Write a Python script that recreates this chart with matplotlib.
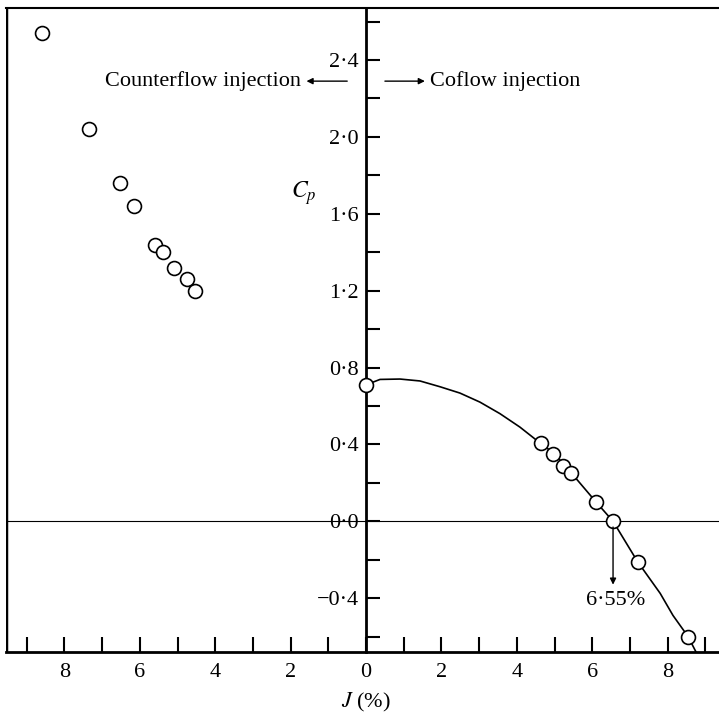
import numpy as np
import matplotlib
matplotlib.use('Agg')
import matplotlib.pyplot as plt
from matplotlib.ticker import FixedLocator, FuncFormatter

plt.rcParams['font.family'] = ['Liberation Serif', 'DejaVu Serif']
plt.rcParams['mathtext.fontset'] = 'stix'

# counterflow injection (plotted on the left, J shown as positive)
counter_J = [8.59, 7.35, 6.53, 6.15, 5.60, 5.38, 5.09, 4.75, 4.54]
counter_Cp = [2.54, 2.04, 1.76, 1.64, 1.44, 1.40, 1.32, 1.26, 1.20]

# coflow injection
co_J = [0.0, 4.64, 4.96, 5.23, 5.44, 6.10, 6.55, 7.21, 8.54]
co_Cp = [0.71, 0.405, 0.35, 0.29, 0.25, 0.10, 0.0, -0.21, -0.60]

# faired curve through the coflow points
curve_J = [0.0, 0.37, 0.9, 1.43, 1.96, 2.49, 3.02, 3.55, 4.08, 4.5, 4.64,
           5.0, 5.45, 6.1, 6.55, 7.2, 7.8, 8.14, 8.54, 8.75]
curve_Cp = [0.71, 0.738, 0.74, 0.73, 0.70, 0.667, 0.62, 0.56, 0.49, 0.425,
            0.405, 0.35, 0.25, 0.10, 0.0, -0.21, -0.375, -0.49, -0.60, -0.68]

zero_J = 6.55

x_ticks = [-8, -6, -4, -2, 0, 2, 4, 6, 8]
y_ticks = [-0.4, 0.0, 0.4, 0.8, 1.2, 1.6, 2.0, 2.4]

fig = plt.figure(figsize=(7.19, 7.17), dpi=100)
ax = fig.add_axes([0.0083, 0.0907, 0.9917, 0.898])
xmin, xmax = -9.55, 9.36
ymin, ymax = -0.68, 2.67
ax.set_xlim(xmin, xmax)
ax.set_ylim(ymin, ymax)

# curve and points
ax.plot(curve_J, curve_Cp, color='black', lw=1.2, zorder=2, solid_joinstyle='round')
ax.plot(co_J, co_Cp, 'o', ms=10, mfc='white', mec='black', mew=1.2, zorder=3, clip_on=False)
ax.plot([-j for j in counter_J], counter_Cp, 'o', ms=10, mfc='white', mec='black', mew=1.2, zorder=3)

# zero line
ax.axhline(0, color='black', lw=0.8, zorder=1)

# spines: central axis at J = 0, frame on left/top/bottom
ax.spines['left'].set_position(('data', 0))
ax.spines['left'].set_linewidth(2)
ax.spines['bottom'].set_linewidth(2)
ax.spines['top'].set_linewidth(1.5)
ax.spines['right'].set_visible(False)
ax.axvline(xmin, color='black', lw=2.5)

# x ticks
ax.xaxis.set_major_locator(FixedLocator(x_ticks))
ax.xaxis.set_minor_locator(FixedLocator(np.arange(-9, 10, 2)))
ax.xaxis.set_major_formatter(FuncFormatter(lambda v, p: '%d' % abs(v)))
ax.tick_params(axis='x', which='both', direction='in', length=11, width=1.5,
               labelsize=16, pad=8)

# y ticks
ax.yaxis.set_major_locator(FixedLocator(y_ticks))
ax.yaxis.set_minor_locator(FixedLocator(np.arange(-0.6, 2.7, 0.4)))
ax.yaxis.set_major_formatter(FuncFormatter(
    lambda v, p: ('\u2212' if v < -1e-9 else '') + ('%.1f' % abs(v)).replace('.', '\u00b7')))
ax.tick_params(axis='y', which='both', direction='in', length=10, width=1.5,
               labelsize=16, pad=5)

ax.set_xlabel('$J$ (%)', fontsize=16, labelpad=8)
ax.xaxis.set_label_coords((0 - xmin) / (xmax - xmin), -0.06)

ax.text(-1.65, 1.71, '$C_p$', fontsize=17, ha='center', va='center')

# direction labels
ax.annotate('', xy=(-1.58, 2.29), xytext=(-0.5, 2.29),
            arrowprops=dict(arrowstyle='-|>', color='black', lw=1.0,
                            mutation_scale=9, shrinkA=0, shrinkB=0))
ax.text(-1.72, 2.29, 'Counterflow injection', fontsize=16, ha='right', va='center')
ax.annotate('', xy=(1.56, 2.29), xytext=(0.5, 2.29),
            arrowprops=dict(arrowstyle='-|>', color='black', lw=1.0,
                            mutation_scale=9, shrinkA=0, shrinkB=0))
ax.text(1.70, 2.29, 'Coflow injection', fontsize=16, ha='left', va='center')

# zero-crossing annotation
ax.annotate('', xy=(zero_J, -0.33), xytext=(zero_J, -0.03),
            arrowprops=dict(arrowstyle='-|>', color='black', lw=1.0,
                            mutation_scale=9, shrinkA=0, shrinkB=0))
ax.text(zero_J + 0.08, -0.41, '6\u00b755%', fontsize=16, ha='center', va='center')

fig.savefig('out.png', dpi=100)
